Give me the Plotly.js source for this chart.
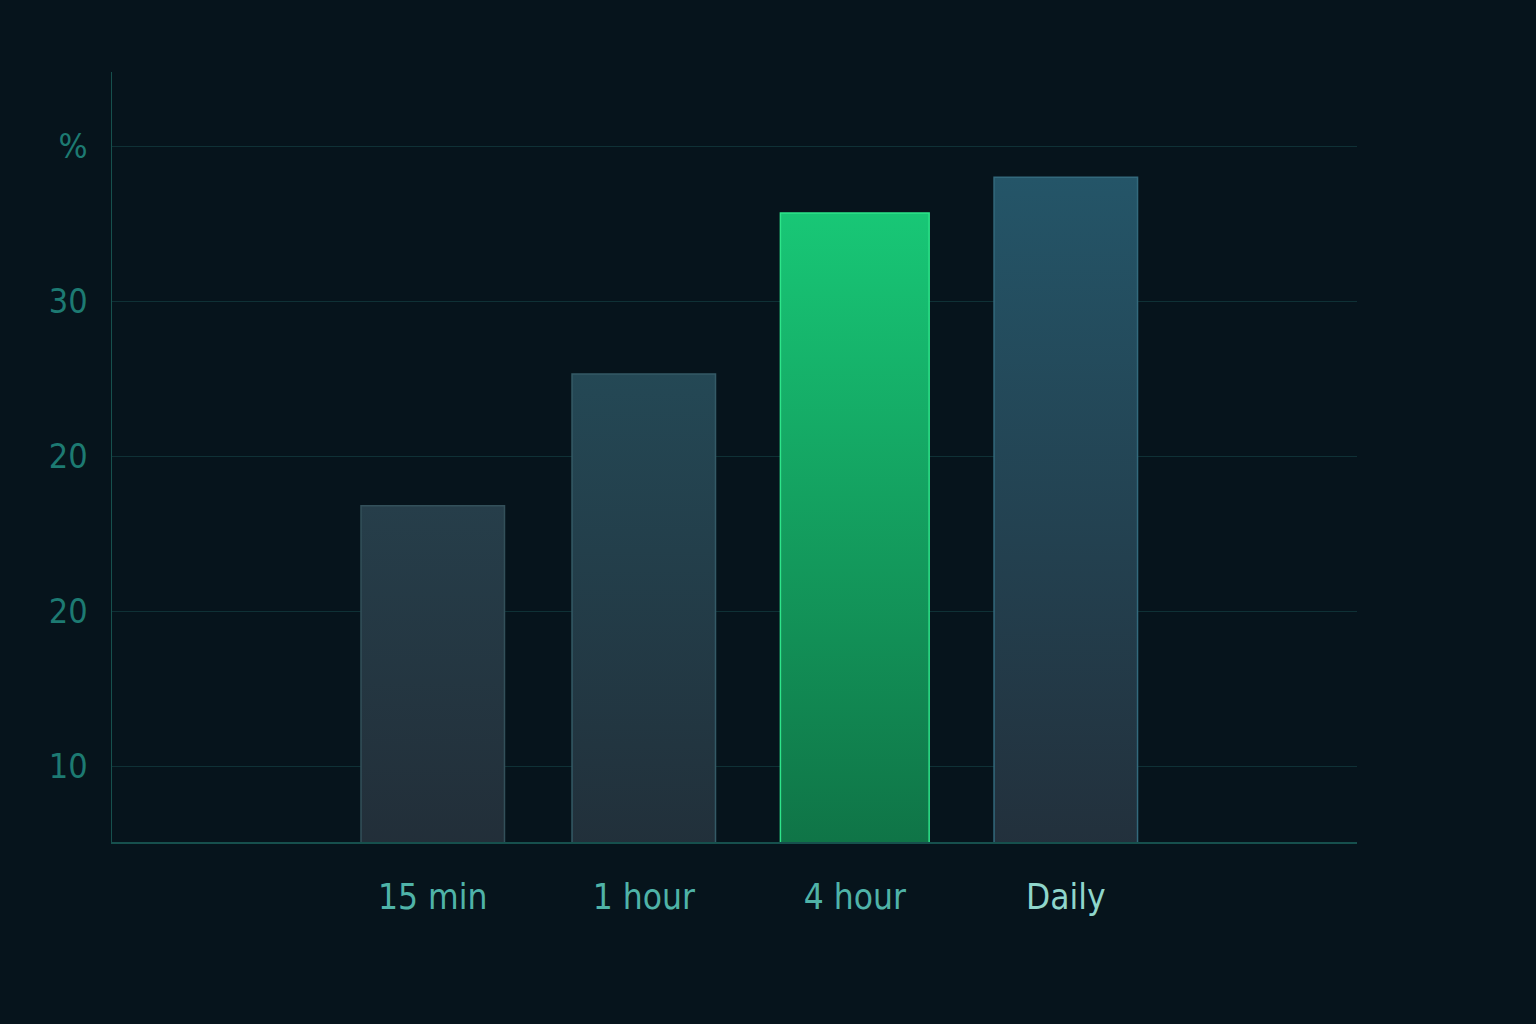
<!DOCTYPE html>
<html>
<head>
<meta charset="utf-8">
<script src="https://cdn.plot.ly/plotly-3.0.1.min.js"></script>
<style>
  html, body { margin: 0; padding: 0; background: #06141c; }
  #plot { width: 1536px; height: 1024px; }
</style>
</head>
<body>
<div id="plot"></div>
<script>
// data
var categories = ["15 min", "1 hour", "4 hour", "Daily"];
var values = [26.8, 35.3, 45.7, 48.0];
var tickVals = [10, 20, 30, 40, 50];
var tickText = ["10", "20", "20", "30", "%"];

// gradient top/bottom per bar
var gradTop = ["#263e4a", "#244855", "#18c776", "#245568"];
var gradBot = ["#212b35", "#212c36", "#0e6a41", "#222c37"];
var edgeCol = ["#33505a", "#345a66", "#2ee58a", "#33697c"];

var trace = {
    type: "bar",
    x: [0, 1, 2, 3],
    y: values,
    width: [0.68, 0.68, 0.705, 0.68],
    marker: {
        color: gradBot,
        line: { color: edgeCol, width: 1.5 }
    },
    hoverinfo: "none"
};

var layout = {
    width: 1536,
    height: 1024,
    paper_bgcolor: "#06141c",
    plot_bgcolor: "#06141c",
    showlegend: false,
    margin: { l: 112, r: 179, t: 72, b: 182 },
    font: { family: "DejaVu Sans Condensed, Open Sans, sans-serif" },
    xaxis: {
        range: [-1.52, 4.38],
        tickvals: [0, 1, 2, 3],
        ticktext: categories,
        showgrid: false,
        zeroline: false,
        showline: true,
        linecolor: "#16504d",
        linewidth: 1.5,
        ticks: "",
        ticklabelstandoff: 23,
        tickfont: { size: 35, color: "#4fb3a8" },
        automargin: false
    },
    yaxis: {
        range: [5.1, 54.8],
        tickvals: tickVals,
        ticktext: tickText,
        showgrid: true,
        gridcolor: "#0f3136",
        gridwidth: 1,
        zeroline: false,
        showline: true,
        linecolor: "#16504d",
        linewidth: 1.5,
        ticks: "",
        ticklabelstandoff: 16,
        tickfont: { size: 34, color: "#1d7a72" },
        automargin: false
    }
};

Plotly.newPlot("plot", [trace], layout, { staticPlot: true }).then(function (gd) {
    // vertical gradients on the bars
    var svg = gd.querySelector(".main-svg");
    var ns = "http://www.w3.org/2000/svg";
    var defs = svg.querySelector("defs") || svg.insertBefore(document.createElementNS(ns, "defs"), svg.firstChild);
    var paths = gd.querySelectorAll(".barlayer .point path");
    paths.forEach(function (p, i) {
        var g = document.createElementNS(ns, "linearGradient");
        g.setAttribute("id", "barGrad" + i);
        g.setAttribute("x1", "0"); g.setAttribute("y1", "0");
        g.setAttribute("x2", "0"); g.setAttribute("y2", "1");
        var s1 = document.createElementNS(ns, "stop");
        s1.setAttribute("offset", "0"); s1.setAttribute("stop-color", gradTop[i]);
        var s2 = document.createElementNS(ns, "stop");
        s2.setAttribute("offset", "1"); s2.setAttribute("stop-color", gradBot[i]);
        g.appendChild(s1); g.appendChild(s2);
        defs.appendChild(g);
        p.style.fill = "url(#barGrad" + i + ")";
    });
    // Daily label is lighter than the others
    var labels = gd.querySelectorAll(".xtick text");
    if (labels.length === 4) labels[3].style.fill = "#8fd6cb";
});
</script>
</body>
</html>
